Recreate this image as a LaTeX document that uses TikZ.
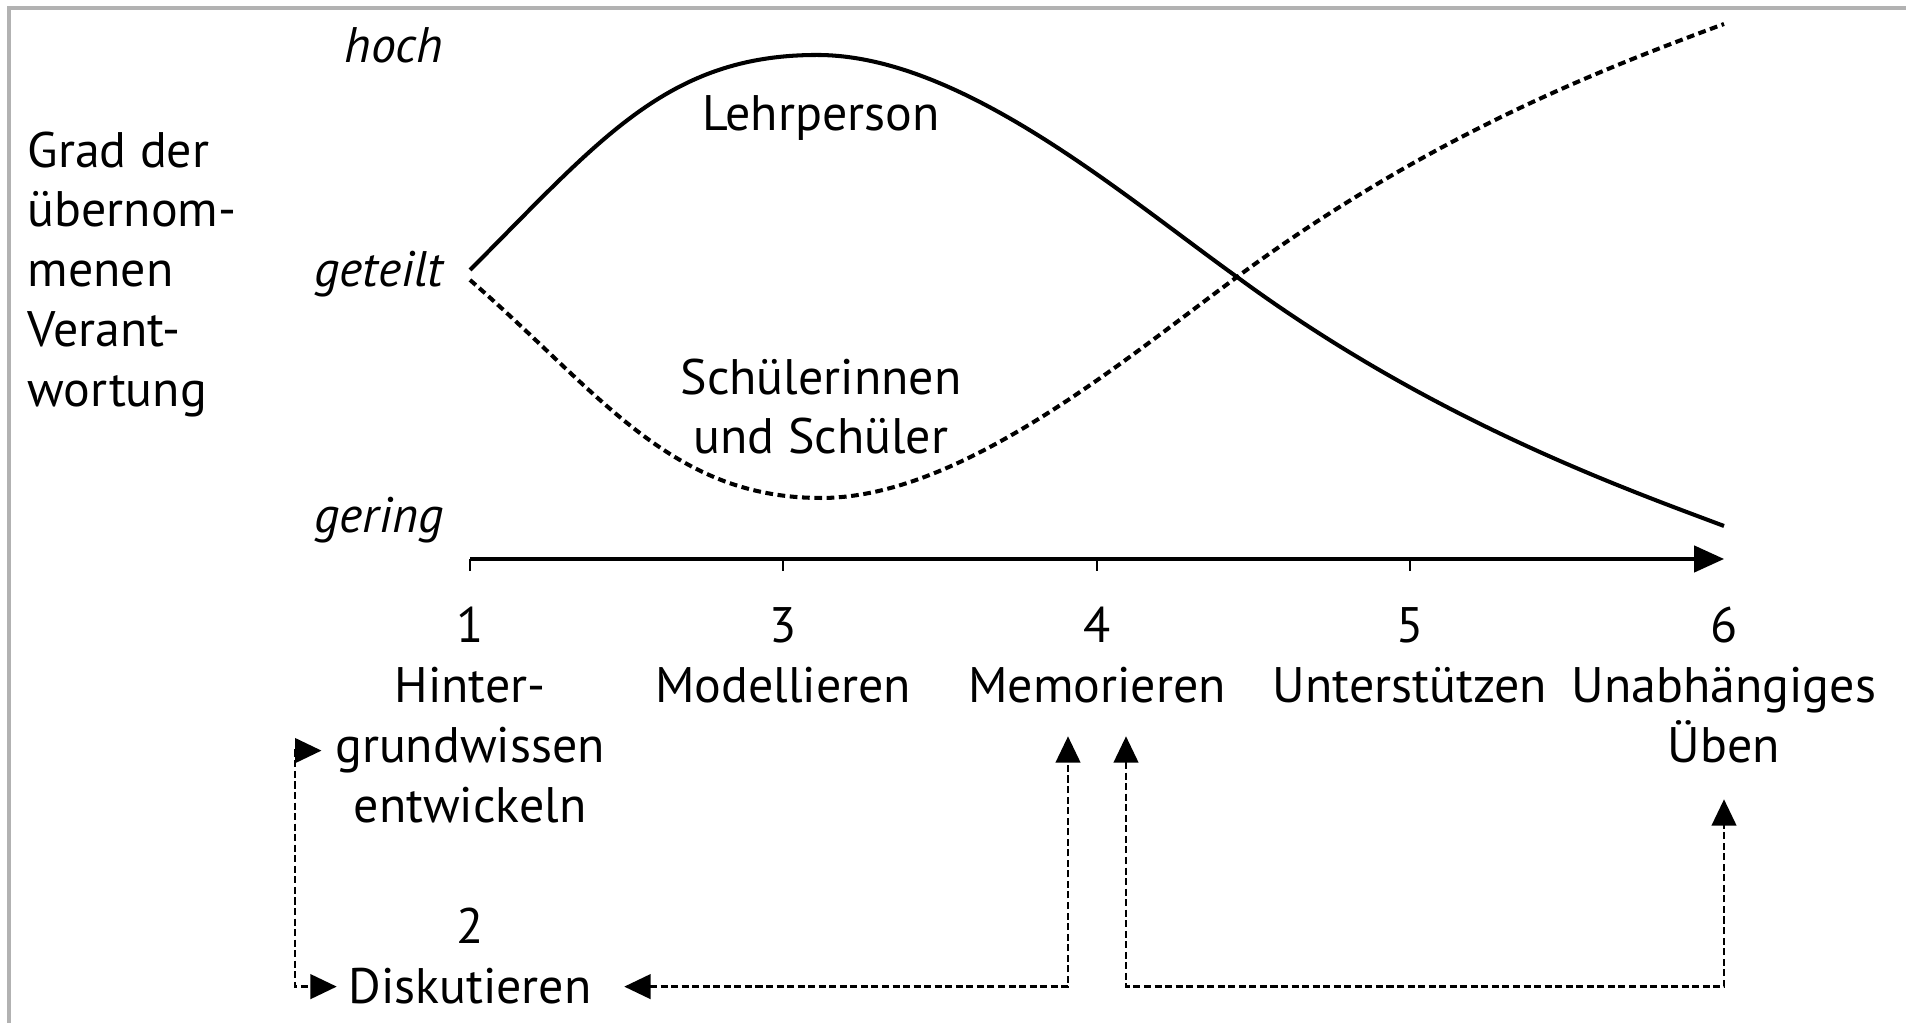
\documentclass[tikz,border=0pt]{standalone}
\usepackage{fontspec}
\setmainfont{PT Sans}
\usetikzlibrary{arrows.meta,calc}
\newcommand{\lblfont}{\fontsize{14.2}{17}\selectfont}
\tikzset{
  lbl/.style={anchor=base, font=\lblfont, inner sep=2pt},
  ylbl/.style={anchor=base east, font=\lblfont\itshape, inner sep=0pt},
  curve/.style={line width=1.15pt},
  conn/.style={line width=0.7pt, dash pattern=on 2pt off 1pt,
    {Triangle[length=7.5pt,width=7pt]}-{Triangle[length=7.5pt,width=7pt]}},
}
\begin{document}
\begin{tikzpicture}
        \useasboundingbox (0,0) rectangle (19.06,10.23);
        % Frame
        \draw[gray!60, line width=1pt] (0.09,0) -- (0.09,10.15) -- (19.06,10.15);
        % Draw axis
        \draw[line width=0.9pt, -{Triangle[length=8.5pt,width=7.5pt]}] (4.70,4.64) -- (17.24,4.64);
        % Add tick marks and phases on the x-axis
        \foreach \i/\x/\t in {1/4.70/Hinter-, 3/7.83/Modellieren, 4/10.97/Memorieren, 5/14.10/Unterstützen, 6/17.24/Unabhängiges} {
            \ifnum\i<6 \draw[line width=0.6pt] (\x,4.64) -- (\x,4.52); \fi
            \node[lbl] (n\i) at (\x,3.80) {\i};
            \node[lbl] (l\i) at (\x,3.20) {\t};
        }
        \node[lbl] (l1b) at (4.70,2.60) {grundwissen};
        \node[lbl] (l1c) at (4.70,2.00) {entwickeln};
        \node[lbl] (l6b) at (17.24,2.60) {Üben};
        \node[lbl] (n2) at (4.70,0.79) {2};
        \node[lbl] (l2) at (4.70,0.19) {Diskutieren};
        % Levels on the y-axis
        \node[ylbl] (hoch) at (4.44,9.60) {hoch};
        \node[ylbl] (geteilt) at (4.44,7.36) {geteilt};
        \node[ylbl] (gering) at (4.44,4.90) {gering};
        \node[font=\lblfont, align=left, anchor=north west, inner sep=0pt] (grad) at (0.27,8.92)
            {Grad der\\übernom-\\menen\\Verant-\\wortung};
        % Teacher curve
        \draw[curve] (4.70,7.53) .. controls (6.0,8.83) and (6.67,9.68) .. (8.17,9.68)
            .. controls (9.6,9.68) and (11.2,8.3) .. (12.37,7.46)
            .. controls (14.3,6.04) and (16.2,5.36) .. (17.24,4.97);
        % Student curve
        \draw[curve, dash pattern=on 2.2pt off 1.3pt] (4.70,7.43) .. controls (6.0,6.3) and (6.7,5.25) .. (8.21,5.25)
            .. controls (9.6,5.25) and (11.2,6.6) .. (12.37,7.46)
            .. controls (14.3,8.88) and (16.0,9.53) .. (17.24,9.99);
        \node[lbl] (lehr) at (8.21,8.92) {Lehrperson};
        \node[lbl] (sus1) at (8.21,6.28) {Schülerinnen};
        \node[lbl] (sus2) at (8.21,5.69) {und Schüler};
        % Connect the phases
        \coordinate (vl) at (2.95,0);
        \coordinate (g1) at ($(l1b.west)+(-0.06,0)$);
        \coordinate (d1) at ($(l2.west)+(-0.04,0)$);
        \draw[conn] (g1) -- (g1 -| vl) |- (d1);
        \coordinate (d2) at ($(l2.east)+(0.25,0)$);
        \coordinate (m1) at ($(l4.south)+(-0.29,-0.25)$);
        \draw[conn] (d2) -| (m1);
        \coordinate (m2) at ($(l4.south)+(0.29,-0.25)$);
        \coordinate (u1) at ($(l6b.south)+(0,-0.28)$);
        \draw[conn] (m2) |- (d2 -| u1) -- (u1);
\end{tikzpicture}
\end{document}
